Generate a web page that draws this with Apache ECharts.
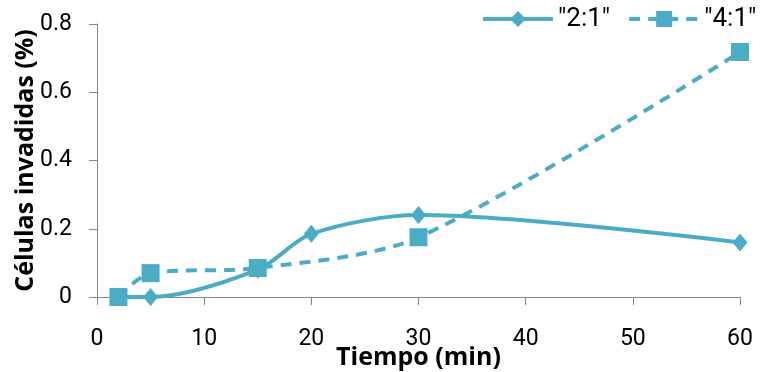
<!DOCTYPE html>
<html><head><meta charset="utf-8">
<script src="https://cdn.jsdelivr.net/npm/echarts@6/dist/echarts.min.js"></script>
<style>html,body{margin:0;padding:0;background:#fff;overflow:hidden}#c{width:760px;height:372px}</style>
</head><body><div id="c"></div>
<script>
const seriesNames = ['"2:1"', '"4:1"'];
const x21 = [2, 5, 15, 20, 30, 60];
const y21 = [0, 0, 0.08, 0.185, 0.24, 0.16];
const x41 = [2, 5, 15, 30, 60];
const y41 = [0, 0.07, 0.085, 0.175, 0.718];
const xTicks = [0, 10, 20, 30, 40, 50, 60];
const yTicks = [0, 0.2, 0.4, 0.6, 0.8];

const color = '#4BACC6';
const font = 'Roboto';
const boldFont = '"Open Sans"';
const chart = echarts.init(document.getElementById('c'), null, {renderer: 'canvas'});
const axisLine = {show: true, lineStyle: {color: '#868686', width: 1}};
chart.setOption({
  animation: false,
  grid: {left: 97, right: 20, top: 24, bottom: 75, containLabel: false, outerBoundsMode: 'none'},
  legend: {
    left: 481, top: 6, itemWidth: 70, itemHeight: 20, itemGap: 17, padding: 0,
    textStyle: {fontFamily: font, fontSize: 26, color: '#000'},
    lineStyle: {width: 4},
    data: seriesNames
  },
  xAxis: {
    type: 'value', min: 0, max: 60, interval: 10,
    name: 'Tiempo (min)', nameLocation: 'middle', nameGap: 48, nameMoveOverlap: false,
    nameTextStyle: {fontFamily: boldFont, fontSize: 25, fontWeight: 'bold', color: '#000'},
    axisLine: axisLine,
    axisTick: {show: true, length: 8, lineStyle: {color: '#868686'}},
    axisLabel: {fontFamily: font, fontSize: 23, color: '#000', margin: 31,
      formatter: v => xTicks.includes(v) ? String(v) : ''},
    splitLine: {show: false}
  },
  yAxis: {
    type: 'value', min: 0, max: 0.8, interval: 0.2,
    name: 'Células invadidas (%)', nameLocation: 'middle', nameGap: 59, nameMoveOverlap: false,
    nameTextStyle: {fontFamily: boldFont, fontSize: 25, fontWeight: 'bold', color: '#000'},
    axisLine: axisLine,
    axisTick: {show: true, length: 8, lineStyle: {color: '#868686'}},
    axisLabel: {fontFamily: font, fontSize: 23, color: '#000', margin: 25,
      formatter: v => { const t = yTicks.find(a => Math.abs(a - v) < 1e-9); return t === undefined ? '' : (t === 0 ? '0' : t.toFixed(1)); }},
    splitLine: {show: false}
  },
  series: [
    {
      name: seriesNames[0], type: 'line', smooth: 0.3,
      data: x21.map((x, i) => [x, y21[i]]),
      symbol: 'diamond', symbolSize: [15, 18],
      lineStyle: {color: color, width: 4},
      itemStyle: {color: color}
    },
    {
      name: seriesNames[1], type: 'line', smooth: 0.3,
      data: x41.map((x, i) => [x, y41[i]]),
      symbol: 'rect', symbolSize: 18,
      lineStyle: {color: color, width: 4, type: [11, 8]},
      itemStyle: {color: color}
    }
  ]
});
</script></body></html>
